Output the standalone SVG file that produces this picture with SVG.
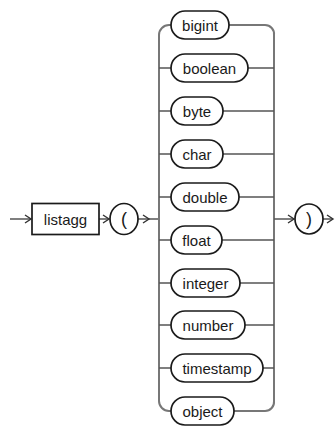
<svg xmlns="http://www.w3.org/2000/svg" width="335" height="426" viewBox="0 0 335 426">
<defs>
<style>
.ln{fill:none;stroke:#555;stroke-width:1.5}
.rail{fill:none;stroke:#777;stroke-width:2}
.ar{fill:none;stroke:#333;stroke-width:1.4;stroke-linejoin:miter}
.pill{fill:#fff;stroke:#1a1a1a;stroke-width:1.7}
.t{font-family:"Liberation Sans",Arial,sans-serif;font-size:15px;fill:#1a1a1a;text-anchor:middle}
.p{font-family:"Liberation Sans",Arial,sans-serif;font-size:18px;fill:#1a1a1a;text-anchor:middle}
</style>
</defs>
<rect width="335" height="426" fill="#fff"/>
<g id="connectors">
<line class="ln" x1="10" y1="219" x2="31" y2="219"/>
<polyline class="ar" points="25,215 31,219 25,223"/>
<line class="ln" x1="99" y1="219" x2="109" y2="219"/>
<polyline class="ar" points="103,215 109,219 103,223"/>
<line class="ln" x1="138" y1="219" x2="159" y2="219"/>
<polyline class="ar" points="143,215 149,219 143,223"/>
<path class="rail" d="M159,401 V35 A10,10 0 0 1 169,25 H172"/>
<path class="rail" d="M159,401 A10,10 0 0 0 169,411 H172"/>
<path class="rail" d="M274,401 V35 A9,9 0 0 0 265,25 H229"/>
<path class="rail" d="M274,401 A9,9 0 0 1 265,411 H234"/>
<line class="ln" x1="159" y1="68" x2="171" y2="68"/>
<line class="ln" x1="248" y1="68" x2="274" y2="68"/>
<line class="ln" x1="159" y1="111" x2="171" y2="111"/>
<line class="ln" x1="223" y1="111" x2="274" y2="111"/>
<line class="ln" x1="159" y1="154" x2="171" y2="154"/>
<line class="ln" x1="223" y1="154" x2="274" y2="154"/>
<line class="ln" x1="159" y1="197" x2="171" y2="197"/>
<line class="ln" x1="239" y1="197" x2="274" y2="197"/>
<line class="ln" x1="159" y1="240" x2="171" y2="240"/>
<line class="ln" x1="222" y1="240" x2="274" y2="240"/>
<line class="ln" x1="159" y1="283" x2="171" y2="283"/>
<line class="ln" x1="240" y1="283" x2="274" y2="283"/>
<line class="ln" x1="159" y1="325" x2="171" y2="325"/>
<line class="ln" x1="245" y1="325" x2="274" y2="325"/>
<line class="ln" x1="159" y1="368" x2="171" y2="368"/>
<line class="ln" x1="263" y1="368" x2="274" y2="368"/>
<line class="ln" x1="274" y1="219" x2="294" y2="219"/>
<polyline class="ar" points="288,215 294,219 288,223"/>
<line class="ln" x1="323" y1="219" x2="333" y2="219"/>
<polyline class="ar" points="327,215 333,219 327,223"/>
</g>
<g id="listagg"><rect class="pill" x="32" y="203.5" width="67" height="31"/><text class="t" x="65.5" y="224.5">listagg</text></g>
<g id="lparen"><ellipse class="pill" cx="124" cy="219" rx="14" ry="15.5"/><text class="p" x="124" y="225">(</text></g>
<g id="bigint"><rect class="pill" x="171" y="11" width="58" height="28" rx="14"/><text class="t" x="200" y="30.5">bigint</text></g>
<g id="boolean"><rect class="pill" x="171" y="54" width="77" height="28" rx="14"/><text class="t" x="209.5" y="73.5">boolean</text></g>
<g id="byte"><rect class="pill" x="171" y="97" width="52" height="28" rx="14"/><text class="t" x="197" y="116.5">byte</text></g>
<g id="char"><rect class="pill" x="171" y="140" width="52" height="28" rx="14"/><text class="t" x="197" y="159.5">char</text></g>
<g id="double"><rect class="pill" x="171" y="183" width="68" height="28" rx="14"/><text class="t" x="205" y="202.5">double</text></g>
<g id="float"><rect class="pill" x="171" y="226" width="51" height="28" rx="14"/><text class="t" x="196.5" y="245.5">float</text></g>
<g id="integer"><rect class="pill" x="171" y="269" width="69" height="28" rx="14"/><text class="t" x="205.5" y="288.5">integer</text></g>
<g id="number"><rect class="pill" x="171" y="311" width="74" height="28" rx="14"/><text class="t" x="208" y="330.5">number</text></g>
<g id="timestamp"><rect class="pill" x="171" y="354" width="92" height="28" rx="14"/><text class="t" x="217" y="373.5">timestamp</text></g>
<g id="object"><rect class="pill" x="171" y="397" width="63" height="28" rx="14"/><text class="t" x="202.5" y="416.5">object</text></g>
<g id="rparen"><ellipse class="pill" cx="309" cy="219" rx="14" ry="15"/><text class="p" x="309" y="225">)</text></g>
</svg>
